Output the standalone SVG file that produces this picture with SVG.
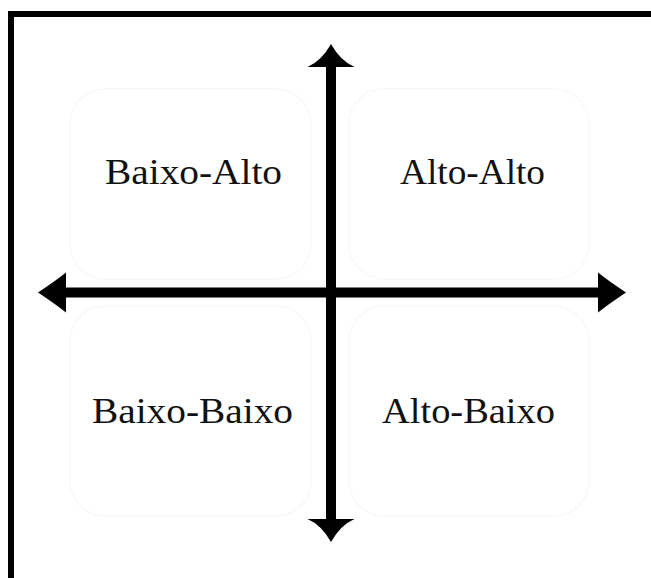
<svg xmlns="http://www.w3.org/2000/svg" width="651" height="578" viewBox="0 0 651 578">
  <style>
    .lbl { font-family: "Liberation Serif", "Times New Roman", serif; font-size: 35px; fill: #111; }
    .axis { stroke: #000; stroke-width: 10; fill: none; }
    .ghost { fill: none; stroke: #f8f8f8; stroke-width: 1.5; }
  </style>
  <defs>
    <marker id="headH" markerUnits="userSpaceOnUse" markerWidth="30" markerHeight="42" refX="1" refY="20" orient="auto-start-reverse" overflow="visible">
      <path d="M0,0 Q10,8 28,20 Q10,32 0,40 Z" fill="#000"/>
    </marker>
    <marker id="headV" markerUnits="userSpaceOnUse" markerWidth="25" markerHeight="49" refX="1" refY="23.5" orient="auto-start-reverse" overflow="visible">
      <path d="M0,0 Q6,14 23,23.5 Q6,33 0,47 Z" fill="#000"/>
    </marker>
  </defs>
  <rect x="0" y="0" width="651" height="578" fill="#fff"/>
  <rect id="frame" x="11" y="14" width="680" height="600" fill="none" stroke="#000" stroke-width="6"/>
  <g id="quadrants">
    <rect class="ghost" x="70" y="89" width="241" height="190" rx="35"/>
    <rect class="ghost" x="349" y="89" width="240" height="190" rx="35"/>
    <rect class="ghost" x="70" y="306" width="241" height="210" rx="35"/>
    <rect class="ghost" x="349" y="306" width="240" height="210" rx="35"/>
  </g>
  <g id="connectors">
    <line class="axis" x1="65" y1="292.5" x2="599" y2="292.5" marker-start="url(#headH)" marker-end="url(#headH)"/>
    <line class="axis" x1="331" y1="66" x2="331" y2="520" marker-start="url(#headV)" marker-end="url(#headV)"/>
  </g>
  <g id="baixo-alto"><text class="lbl" x="105" y="184" textLength="177" lengthAdjust="spacingAndGlyphs">Baixo-Alto</text></g>
  <g id="alto-alto"><text class="lbl" x="400" y="184" textLength="145" lengthAdjust="spacingAndGlyphs">Alto-Alto</text></g>
  <g id="baixo-baixo"><text class="lbl" x="92" y="423" textLength="201" lengthAdjust="spacingAndGlyphs">Baixo-Baixo</text></g>
  <g id="alto-baixo"><text class="lbl" x="382" y="423" textLength="173" lengthAdjust="spacingAndGlyphs">Alto-Baixo</text></g>
</svg>
